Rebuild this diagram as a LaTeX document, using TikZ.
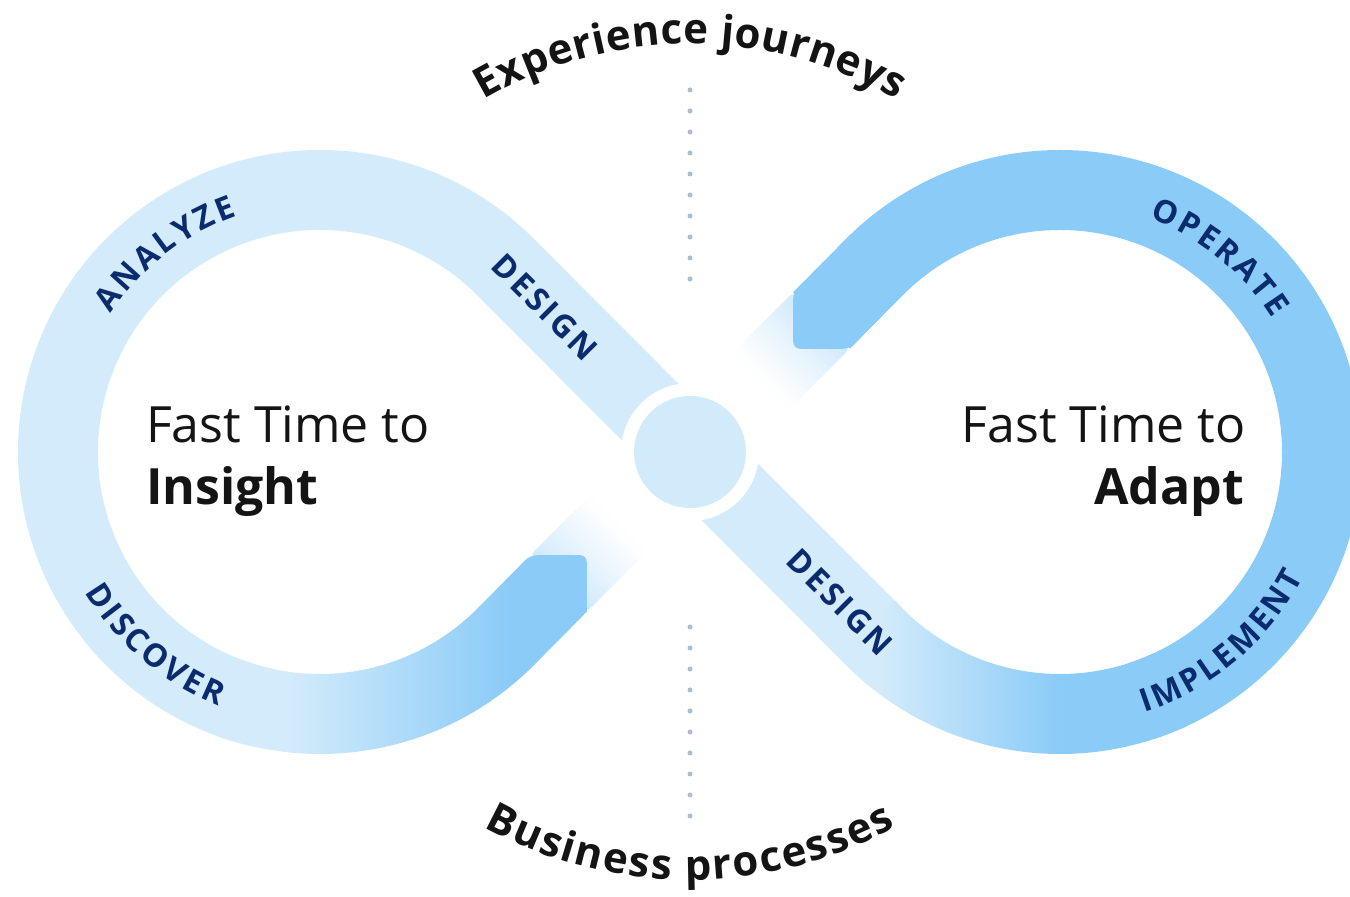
\documentclass[tikz,border=0pt]{standalone}
\usepackage{fontspec}
\setmainfont{Open Sans}
\usetikzlibrary{calc}
\definecolor{lightband}{HTML}{D3EBFB}
\definecolor{darkband}{HTML}{8ACBF7}
\definecolor{pale}{HTML}{CDE8FB}
\definecolor{navy}{HTML}{0B2B6F}
\definecolor{dotc}{HTML}{A9BDD5}
\definecolor{hubc}{HTML}{D2EBFB}
\definecolor{ink}{HTML}{141414}
\newdimen\chw
\newdimen\totw
\newdimen\curp
\newcommand\measurechar[2]{%
  \pgfinterruptpicture\setbox0=\hbox{#1#2}\global\chw=\wd0\relax\endpgfinterruptpicture}
% #1 name prefix, #2 font setup, #3 centre, #4 baseline radius, #5 mid angle,
% #6 mode (1 = clockwise, tops outward; -1 = counter-clockwise, tops inward), #7 tracking, #8 letters
\newcommand\arctext[8]{%
  \global\totw=0pt
  \foreach \ch in {#8}{\measurechar{#2}{\ch}\global\advance\totw by \chw \global\advance\totw by #7pt}%
  \global\advance\totw by -#7pt
  \global\curp=0pt
  \foreach \ch [count=\k] in {#8}{%
    \measurechar{#2}{\ch}%
    \pgfmathsetmacro\pc{\curp+0.5*\chw-0.5*\totw}%
    \pgfmathsetmacro\ang{#5-(#6)*\pc/#4*57.29578}%
    \pgfmathsetmacro\rot{\ang-90*(#6)}%
    \path (#3) ++(\ang:#4) node[name=#1\k, rotate=\rot, anchor=base, inner sep=0pt, outer sep=0pt] {#2\ch};
    \global\advance\curp by \chw
    \global\advance\curp by #7pt
  }%
}
\newcommand\lblf{\fontsize{32}{34}\selectfont\bfseries\color{navy}}
\newcommand\arcf{\fontsize{42}{50}\selectfont\bfseries\color{ink}}
\begin{document}
\begin{tikzpicture}[x=1pt,y=1pt,
  band/.style={line width=80pt},
  txt/.style={font=\fontsize{50}{60}\selectfont, text=ink, inner sep=0pt, outer sep=0pt},
  lbl/.style={font=\fontsize{32}{34}\selectfont\bfseries, text=navy, inner sep=0pt, outer sep=0pt},
  dots/.style={dotc, line width=5pt, line cap=round, dash pattern=on 0pt off 21pt}]
\useasboundingbox (0,0) rectangle (1350,897);
\clip (0,0) rectangle (1350,897);
% geometry
\coordinate (X) at (690,445);
\coordinate (CL) at (320,445);
\coordinate (CR) at (1060,445);
\coordinate (T1) at ([shift={(45:262)}]CL);
\coordinate (T4) at ([shift={(225:262)}]CR);
\coordinate (T3) at ([shift={(135:262)}]CR);
\coordinate (WR) at (821.5,576.5);
\coordinate (RWa) at (807.3,618.9);
\coordinate (RWb) at (793.2,604.8);
\coordinate (RWt) at (793.2,548.2);
\coordinate (RWc) at (849.8,548.2);
\coordinate (RWd) at (863.9,562.3);
\coordinate (LWo) at (586.8,285.2);
\coordinate (LWt) at (586.8,341.8);
\coordinate (LWi) at (530.2,341.8);
% light band: left loop top, design diagonal
\draw[band, lightband] ([shift={(258:262)}]CL) arc[start angle=258, end angle=45, radius=262] -- (X) -- (T4);
% right loop bottom gradient
\begin{scope}
  \clip ([shift={(222:302)}]CR) arc[start angle=222, end angle=295, radius=302]
     -- ([shift={(295:222)}]CR) arc[start angle=295, end angle=222, radius=222] -- cycle;
  \fill[lightband] (820,120) rectangle (880.5,330);
  \shade[left color=lightband, right color=darkband] (880,120) rectangle (1060,330);
  \fill[darkband] (1059.5,120) rectangle (1200,330);
\end{scope}
% whitish fading pieces
\begin{scope}[shift={(X)}, rotate=45]
  \clip[rounded corners=8] (98,-40) rectangle (188,40);
  \foreach \i in {0,...,22}{\pgfmathsetmacro\p{100*(\i/22)^1.2}\fill[pale!\p!white] (98+4*\i,-41) rectangle (102.5+4*\i,41);}
\end{scope}
\begin{scope}[shift={(X)}, rotate=225]
  \clip[rounded corners=8] (98,-40) rectangle (188,40);
  \foreach \i in {0,...,22}{\pgfmathsetmacro\p{100*(\i/22)^1.2}\fill[pale!\p!white] (98+4*\i,-41) rectangle (102.5+4*\i,41);}
\end{scope}
% right loop dark band
\draw[band, darkband] (WR) -- (T3) arc[start angle=135, end angle=-72, radius=262];
\fill[darkband, rounded corners=7] (RWa) -- (RWb) -- (RWt) -- (RWc) -- (RWd) -- cycle;
% left loop bottom gradient with end
\begin{scope}
  \clip ([shift={(248:302)}]CL) arc[start angle=248, end angle=315, radius=302] -- (LWo)
     [rounded corners=7] -- (LWt) -- (LWi) [sharp corners]
     -- ([shift={(315:222)}]CL) arc[start angle=315, end angle=248, radius=222] -- cycle;
  \fill[lightband] (190,120) rectangle (290.5,360);
  \shade[left color=lightband, right color=darkband] (290,120) rectangle (510,360);
  \fill[darkband] (509.5,120) rectangle (620,360);
\end{scope}
% hub
\node[circle, fill=white, minimum size=138pt, inner sep=0pt] (hubring) at (X) {};
\node[circle, fill=hubc, minimum size=112pt, inner sep=0pt] (hub) at (X) {};
% dotted lines
\coordinate (du1) at (690,807);
\coordinate (du2) at (690,614);
\coordinate (dl1) at (690,270);
\coordinate (dl2) at (690,78);
\draw[dots] (du1) -- (du2);
\draw[dots] (dl1) -- (dl2);
% centre texts
\node[txt, anchor=base west] (fl) at (146,454.3) {Fast Time to};
\node[txt, anchor=base west] (ins) at (146,392) {\bfseries Insight};
\node[txt, anchor=base east] (fr) at (1245.5,454.3) {Fast Time to};
\node[txt, anchor=base east] (ada) at (1244,392) {\bfseries Adapt};
% straight labels
\node[lbl, rotate=-45] (des1) at (545,590) {D\kern3pt E\kern3pt S\kern3pt I\kern3pt G\kern3pt N};
\node[lbl, rotate=-45] (des2) at (840,295) {D\kern3pt E\kern3pt S\kern3pt I\kern3pt G\kern3pt N};
% curved labels
\arctext{an}{\lblf}{CL}{250.5}{128}{1}{3}{A,N,A,L,Y,Z,E}
\arctext{di}{\lblf}{CL}{273.5}{229.5}{-1}{3}{D,I,S,C,O,V,E,R}
\arctext{op}{\lblf}{CR}{250.5}{50.6}{1}{3}{O,P,E,R,A,T,E}
\arctext{im}{\lblf}{CR}{273.5}{310.3}{-1}{3}{I,M,P,L,E,M,E,N,T}
\arctext{ej}{\arcf}{X}{408}{90}{1}{0.5}{E,x,p,e,r,i,e,n,c,e,~,j,o,u,r,n,e,y,s}
\arctext{bp}{\arcf}{X}{428}{270}{-1}{1.8}{B,u,s,i,n,e,s,s,~,p,r,o,c,e,s,s,e,s}
\end{tikzpicture}
\end{document}
